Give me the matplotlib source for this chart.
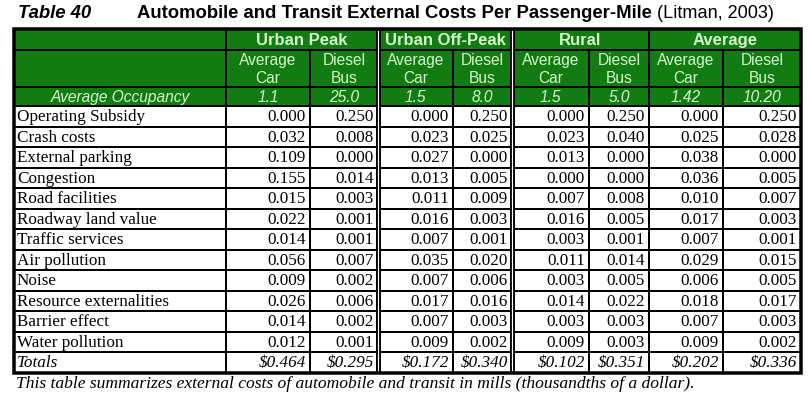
import matplotlib
matplotlib.use("Agg")
import matplotlib.pyplot as plt
from matplotlib.patches import Rectangle

# ---- data ----
groups = ["Urban Peak", "Urban Off-Peak", "Rural", "Average"]
modes = ["Average\nCar", "Diesel\nBus"]
occupancy = ["1.1", "25.0", "1.5", "8.0", "1.5", "5.0", "1.42", "10.20"]
rows = ["Operating Subsidy", "Crash costs", "External parking", "Congestion",
        "Road facilities", "Roadway land value", "Traffic services", "Air pollution",
        "Noise", "Resource externalities", "Barrier effect", "Water pollution"]
urban_peak_car = [0.000, 0.032, 0.109, 0.155, 0.015, 0.022, 0.014, 0.056, 0.009, 0.026, 0.014, 0.012]
urban_peak_bus = [0.250, 0.008, 0.000, 0.014, 0.003, 0.001, 0.001, 0.007, 0.002, 0.006, 0.002, 0.001]
offpeak_car = [0.000, 0.023, 0.027, 0.013, 0.011, 0.016, 0.007, 0.035, 0.007, 0.017, 0.007, 0.009]
offpeak_bus = [0.250, 0.025, 0.000, 0.005, 0.009, 0.003, 0.001, 0.020, 0.006, 0.016, 0.003, 0.002]
rural_car = [0.000, 0.023, 0.013, 0.000, 0.007, 0.016, 0.003, 0.011, 0.003, 0.014, 0.003, 0.009]
rural_bus = [0.250, 0.040, 0.000, 0.000, 0.008, 0.005, 0.001, 0.014, 0.005, 0.022, 0.003, 0.003]
avg_car = [0.000, 0.025, 0.038, 0.036, 0.010, 0.017, 0.007, 0.029, 0.006, 0.018, 0.007, 0.009]
avg_bus = [0.250, 0.028, 0.000, 0.005, 0.007, 0.003, 0.001, 0.015, 0.005, 0.017, 0.003, 0.002]
totals = [0.464, 0.295, 0.172, 0.340, 0.102, 0.351, 0.202, 0.336]
columns = [urban_peak_car, urban_peak_bus, offpeak_car, offpeak_bus,
           rural_car, rural_bus, avg_car, avg_bus]

title_left = "Table 40"
title_main = "Automobile and Transit External Costs Per Passenger-Mile"
title_src = " (Litman, 2003)"
caption = ("This table summarizes external costs of automobile and transit in mills "
           "(thousandths of a dollar).")

# ---- layout (pixel coordinates) ----
W, H = 808, 400
xs = [14, 226, 310, 378, 453, 512, 589, 649, 723, 801]
y_top, y_h1, y_h2, y_h3 = 29, 50, 87, 106
row_h = 20.5
n_rows = len(rows) + 1
y_bot = y_h3 + row_h * n_rows
GREEN = "#127c12"
HDR_TXT = "#d4f7cc"
SANS = "Liberation Sans"
SERIF = "Liberation Serif"
FS_BODY = 12.3
px = 0.72  # points per pixel at dpi 100

fig = plt.figure(figsize=(W / 100, H / 100), dpi=100)
ax = fig.add_axes([0, 0, 1, 1])
ax.set_xlim(0, W)
ax.set_ylim(H, 0)
ax.axis("off")

# title
ax.text(18, 14, title_left, fontsize=13.3, fontweight="bold", fontstyle="italic",
        family=SANS, va="center", ha="left")
t = ax.text(137, 14, title_main, fontsize=13.3, fontweight="bold",
            family=SANS, va="center", ha="left")
fig.canvas.draw()
bb = t.get_window_extent().transformed(ax.transData.inverted())
ax.text(bb.x1, 14, title_src, fontsize=13.1, family=SANS, va="center", ha="left")

# header background
ax.add_patch(Rectangle((xs[0], y_top), xs[-1] - xs[0], y_h3 - y_top,
                       facecolor=GREEN, edgecolor="none", zorder=1))

# header text
for g, name in enumerate(groups):
    x0, x1 = xs[1 + 2 * g], xs[3 + 2 * g]
    ax.text((x0 + x1) / 2, (y_top + y_h1) / 2 + 1, name, fontsize=12, fontweight="bold",
            family=SANS, color=HDR_TXT, ha="center", va="center", zorder=3)
    for m in range(2):
        c0, c1 = xs[1 + 2 * g + m], xs[2 + 2 * g + m]
        ax.text((c0 + c1) / 2, (y_h1 + y_h2) / 2 + 1, modes[m], fontsize=11.2, family=SANS,
                color=HDR_TXT, ha="center", va="center", linespacing=1.25, zorder=3)
        ax.text((c0 + c1) / 2, (y_h2 + y_h3) / 2 + 1, occupancy[2 * g + m], fontsize=11.2,
                fontstyle="italic", family=SANS, color=HDR_TXT, ha="center", va="center", zorder=3)
ax.text((xs[0] + xs[1]) / 2, (y_h2 + y_h3) / 2 + 1, "Average Occupancy", fontsize=11.2,
        fontstyle="italic", family=SANS, color=HDR_TXT, ha="center", va="center", zorder=3)

# body text
for i, label in enumerate(rows):
    yc = y_h3 + row_h * (i + 0.5) + 1
    ax.text(xs[0] + 3, yc, label, fontsize=FS_BODY, family=SERIF, ha="left", va="center", zorder=3)
    for j, col in enumerate(columns):
        ax.text(xs[j + 2] - 4, yc, f"{col[i]:.3f}", fontsize=FS_BODY, family=SERIF,
                ha="right", va="center", zorder=3)
yc = y_h3 + row_h * (len(rows) + 0.5) + 1
ax.text(xs[0] + 3, yc, "Totals", fontsize=FS_BODY, family=SERIF, fontstyle="italic",
        ha="left", va="center", zorder=3)
for j, v in enumerate(totals):
    ax.text(xs[j + 2] - 4, yc, f"${v:.3f}", fontsize=FS_BODY, family=SERIF, fontstyle="italic",
            ha="right", va="center", zorder=3)

# grid lines
lw = 2 * px
for y in [y_h1, y_h2, y_h3] + [y_h3 + row_h * k for k in range(1, n_rows)]:
    ax.plot([xs[0], xs[-1]], [y, y], color="black", lw=lw, zorder=4, solid_capstyle="butt")
ax.plot([xs[1], xs[1]], [y_top, y_bot], color="black", lw=lw, zorder=4, solid_capstyle="butt")
for k in (2, 4, 6, 8):
    ax.plot([xs[k], xs[k]], [y_h1, y_bot], color="black", lw=lw, zorder=4, solid_capstyle="butt")
for k in (3, 5, 7):
    ax.plot([xs[k], xs[k]], [y_top, y_bot], color="black", lw=lw, zorder=4, solid_capstyle="butt")
for k in (3, 5):  # double rules
    ax.plot([xs[k], xs[k]], [y_top, y_bot], color="black", lw=5 * px, zorder=4,
            solid_capstyle="butt")
    ax.plot([xs[k], xs[k]], [y_top + 1, y_bot - 1], color="white", lw=1.2 * px, zorder=5,
            solid_capstyle="butt")
ax.add_patch(Rectangle((xs[0], y_top), xs[-1] - xs[0], y_bot - y_top, facecolor="none",
                       edgecolor="black", lw=3.5 * px, zorder=6))

# caption
ax.text(xs[0] + 2, y_bot + 12, caption, fontsize=12.6, family=SERIF, fontstyle="italic",
        ha="left", va="center")

fig.savefig("out.png", dpi=100)
